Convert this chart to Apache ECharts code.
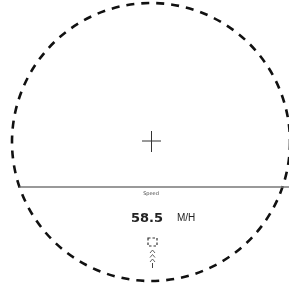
<!DOCTYPE html>
<html>
<head>
<meta charset="utf-8">
<script src="https://cdn.jsdelivr.net/npm/echarts@6/dist/echarts.min.js"></script>
<style>
html,body{margin:0;padding:0;background:#fff;}
#main{width:289px;height:291px;}
</style>
</head>
<body>
<div id="main"></div>
<script>
// readout values
var labelText = "Speed";
var speedValue = 58.5;
var unitText = "M/H";
var chevronRows = [0, 1, 2];

var dom = document.getElementById("main");
var chart = echarts.init(dom);

var cx = 151, cy = 142, r = 139;
var lineY = 187;
var half = Math.sqrt(r * r - (lineY - cy) * (lineY - cy));

var graphics = [
	{ type: "circle", shape: { cx: cx, cy: cy, r: r },
		style: { fill: "none", stroke: "#111", lineWidth: 2.6, lineDash: [8, 7] } },
	// crosshair
	{ type: "line", shape: { x1: cx - 9, y1: cy - 1, x2: cx + 10, y2: cy - 1 },
		style: { stroke: "#333", lineWidth: 1 } },
	{ type: "line", shape: { x1: cx + 0.5, y1: cy - 11, x2: cx + 0.5, y2: cy + 10 },
		style: { stroke: "#333", lineWidth: 1 } },
	// horizon
	{ type: "line", shape: { x1: cx - half, y1: lineY, x2: 289, y2: lineY },
		style: { stroke: "#777", lineWidth: 1.5 } },
	{ type: "text", x: cx, y: 194,
		style: { text: labelText, fill: "#444", font: "5px 'DejaVu Sans'", align: "center", verticalAlign: "middle" } },
	{ type: "text", x: 163, y: 219,
		style: { text: speedValue.toFixed(1), fill: "#222", font: "bold 13px 'DejaVu Sans'", align: "right", verticalAlign: "middle" } },
	{ type: "text", x: 177, y: 218,
		style: { text: unitText, fill: "#222", font: "10px 'Liberation Sans'", align: "left", verticalAlign: "middle" } },
	// icon box
	{ type: "rect", shape: { x: 148, y: 238, width: 9, height: 8 },
		style: { fill: "none", stroke: "#333", lineWidth: 1.2, lineDash: [2.5, 2] } },
	{ type: "line", shape: { x1: 152.5, y1: 263, x2: 152.5, y2: 268 },
		style: { stroke: "#444", lineWidth: 1 } }
];
for (var i = 0; i < chevronRows.length; i++) {
	var y0 = 250 + chevronRows[i] * 4.5;
	graphics.push({ type: "polyline", shape: { points: [[150, y0 + 3], [152.5, y0], [155, y0 + 3]] },
		style: { fill: "none", stroke: "#555", lineWidth: 0.9 } });
}

chart.setOption({
	animation: false,
	backgroundColor: "#fff",
	graphic: graphics
});
</script>
</body>
</html>
